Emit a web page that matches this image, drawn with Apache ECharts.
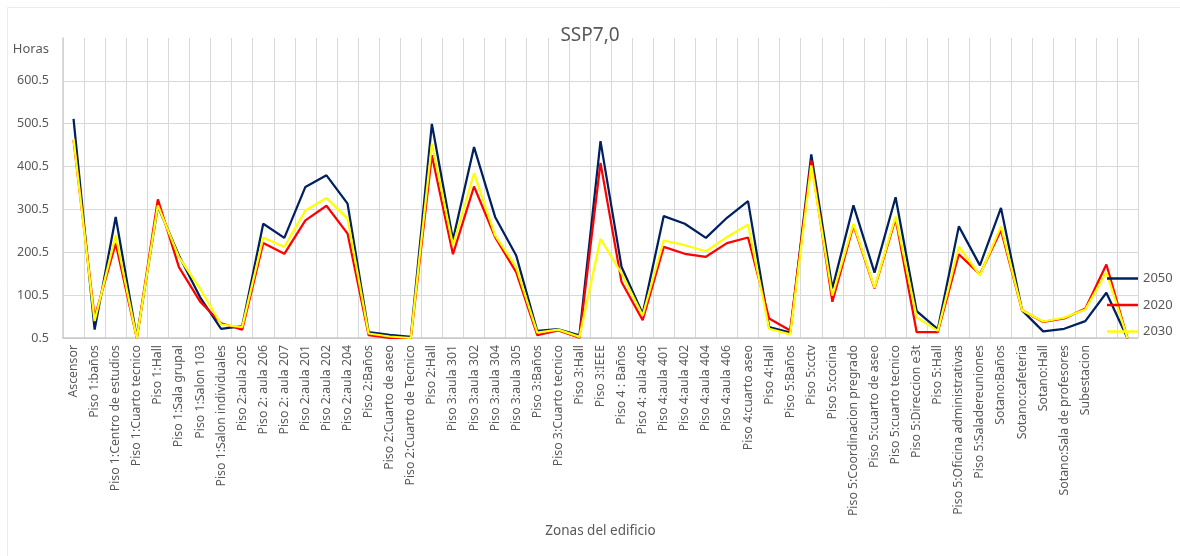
<!DOCTYPE html>
<html>
<head>
<meta charset="utf-8">
<title>SSP7,0</title>
<script src="https://cdn.jsdelivr.net/npm/echarts@6/dist/echarts.min.js"></script>
<style>
  html, body { margin: 0; padding: 0; background: #fff; }
  #chart { width: 1180px; height: 556px; }
</style>
</head>
<body>
<div id="chart"></div>
<script>
// zonas del edificio (las dos ultimas sin etiqueta, como en la hoja original)
var zonas = [
  'Ascensor', 'Piso 1:baños', 'Piso 1:Centro de estudios', 'Piso 1:Cuarto tecnico',
  'Piso 1:Hall', 'Piso 1:Sala grupal', 'Piso 1:Salon 103', 'Piso 1:Salon individuales',
  'Piso 2:aula 205', 'Piso 2: aula 206', 'Piso 2: aula 207', 'Piso 2:aula 201',
  'Piso 2:aula 202', 'Piso 2:aula 204', 'Piso 2:Baños', 'Piso 2:Cuarto de aseo',
  'Piso 2:Cuarto de Tecnico', 'Piso 2:Hall', 'Piso 3:aula 301', 'Piso 3:aula 302',
  'Piso 3:aula 304', 'Piso 3:aula 305', 'Piso 3:Baños', 'Piso 3:Cuarto tecnico',
  'Piso 3:Hall', 'Piso 3:IEEE', 'Piso 4 : Baños', 'Piso 4: aula 405',
  'Piso 4:aula 401', 'Piso 4:aula 402', 'Piso 4:aula 404', 'Piso 4:aula 406',
  'Piso 4:cuarto aseo', 'Piso 4:Hall', 'Piso 5:Baños', 'Piso 5:cctv',
  'Piso 5:cocina', 'Piso 5:Coordinacion pregrado', 'Piso 5:cuarto de aseo', 'Piso 5:cuarto tecnico',
  'Piso 5:Direccion e3t', 'Piso 5:Hall', 'Piso 5:Oficina administrativas', 'Piso 5:Saladereuniones',
  'Sotano:Baños', 'Sotano:cafeteria', 'Sotano:Hall', 'Sotano:Sala de profesores',
  'Subestacion', ' ', '  '
]

var horas2050 = [
  512, 20, 283, 1, 308, 193, 96, 22, 28, 267,
  234, 353, 380, 314, 14, 8, 3, 500, 230, 446,
  283, 193, 17, 21, 7, 460, 166, 57, 285, 267,
  234, 281, 320, 26, 13, 429, 116, 310, 153, 329,
  63, 21, 261, 170, 304, 65, 16, 22, 40, 106,
  0
]
var horas2020 = [
  462, 48, 221, 0, 324, 166, 86, 35, 20, 222,
  197, 275, 309, 244, 7, 1, 0.5, 427, 196, 354,
  236, 154, 7, 18, 1, 409, 131, 42, 213, 197,
  190, 222, 235, 46, 18, 415, 85, 263, 116, 279,
  14, 14, 196, 149, 252, 65, 38, 46, 69, 172,
  0
]
var horas2030 = [
  465, 40, 240, 0, 310, 189, 116, 32, 26, 235,
  213, 298, 327, 279, 11, 4, 0.5, 454, 217, 385,
  240, 166, 13, 20, 3, 232, 151, 53, 228, 217,
  203, 236, 265, 22, 9, 403, 100, 267, 118, 284,
  49, 17, 214, 147, 261, 65, 39, 48, 67, 154,
  0
]

var gris = '#595959'
var fuente = 'Noto Sans'

var chart = echarts.init(document.getElementById('chart'))
chart.setOption({
  backgroundColor: '#fff',
  animation: false,
  textStyle: { fontFamily: fuente },
  graphic: [{
    type: 'rect',
    silent: true,
    shape: { x: 7.5, y: 7.5, width: 1200, height: 600 },
    style: { fill: null, stroke: '#e3edf7', lineWidth: 1 }
  }],
  title: {
    text: 'SSP7,0',
    left: 'center',
    top: 21,
    textStyle: { color: gris, fontSize: 19, fontWeight: 'normal', fontFamily: fuente }
  },
  legend: {
    data: ['2050', '2020', '2030'],
    orient: 'vertical',
    left: 1107,
    top: 271,
    padding: 0,
    icon: 'rect',
    itemWidth: 31,
    itemHeight: 2.5,
    itemGap: 11.5,
    textStyle: { color: gris, fontSize: 13, lineHeight: 15, fontFamily: fuente }
  },
  grid: {
    left: 63,
    top: 38,
    width: 1075,
    height: 300,
    containLabel: false
  },
  xAxis: {
    type: 'category',
    data: zonas,
    boundaryGap: true,
    name: 'Zonas del edificio',
    nameLocation: 'middle',
    nameGap: 184,
    nameTextStyle: { color: gris, fontSize: 13.5, fontFamily: fuente },
    axisLine: { lineStyle: { color: '#c8c8c8', width: 1.5 } },
    axisTick: { show: false },
    axisLabel: {
      interval: 0,
      rotate: 90,
      margin: 7,
      color: gris,
      fontSize: 12.3,
      fontFamily: fuente
    },
    splitLine: { show: true, interval: 0, lineStyle: { color: '#d9d9d9', width: 1 } }
  },
  yAxis: {
    type: 'value',
    min: 0.5,
    max: 700.5,
    interval: 100,
    name: 'Horas',
    nameLocation: 'end',
    nameGap: -11,
    nameTextStyle: {
      color: gris, fontSize: 13, fontFamily: fuente,
      align: 'right', verticalAlign: 'middle', padding: [0, 14, 0, 0]
    },
    axisLine: { show: true, lineStyle: { color: '#d0d0d0', width: 1.5 } },
    axisTick: { show: false },
    axisLabel: {
      margin: 14,
      color: gris,
      fontSize: 12.5,
      fontFamily: fuente,
      formatter: function (v) {
        if (v > 700) return ''
        return v.toFixed(1)
      }
    },
    splitLine: { show: true, showMaxLine: false, lineStyle: { color: '#d9d9d9', width: 1 } }
  },
  series: [{
    name: '2050',
    type: 'line',
    data: horas2050,
    symbol: 'none',
    color: '#002060',
    lineStyle: { color: '#002060', width: 2.25 }
  }, {
    name: '2020',
    type: 'line',
    data: horas2020,
    symbol: 'none',
    color: '#ff0000',
    lineStyle: { color: '#ff0000', width: 2.25 }
  }, {
    name: '2030',
    type: 'line',
    data: horas2030,
    symbol: 'none',
    color: '#ffff00',
    lineStyle: { color: '#ffff00', width: 2.25 }
  }]
})
</script>
</body>
</html>
